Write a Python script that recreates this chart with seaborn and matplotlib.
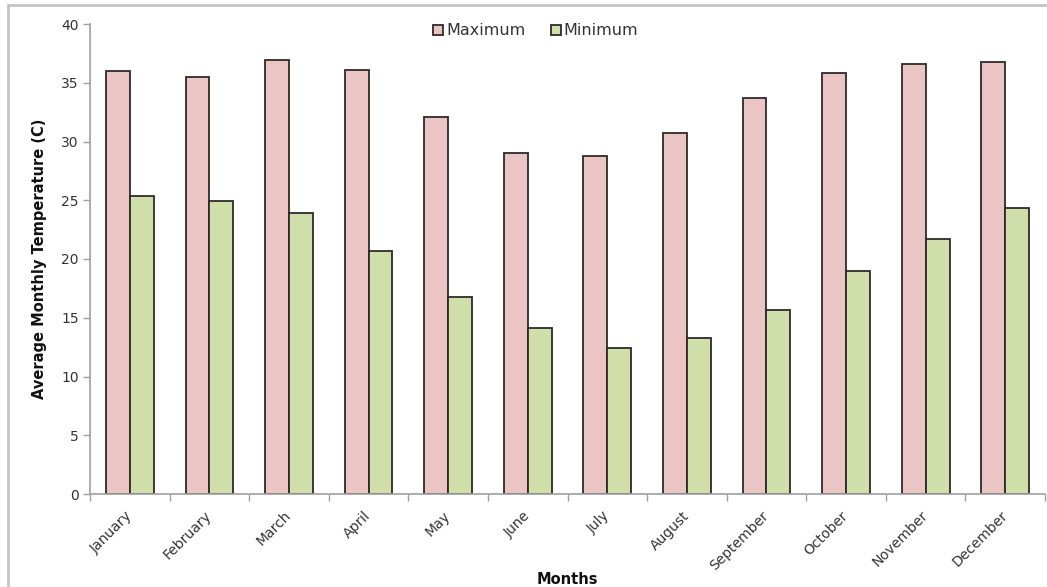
import matplotlib
matplotlib.use("Agg")
import matplotlib.pyplot as plt
from matplotlib.lines import Line2D
import numpy as np
import pandas as pd
import seaborn as sns

# Monthly temperature normals
months = ["January", "February", "March", "April", "May", "June",
          "July", "August", "September", "October", "November", "December"]
max_temp = [36.0, 35.5, 36.9, 36.1, 32.1, 29.0, 28.8, 30.7, 33.7, 35.8, 36.6, 36.8]
min_temp = [25.4, 24.9, 23.9, 20.7, 16.8, 14.1, 12.4, 13.3, 15.7, 19.0, 21.7, 24.3]
series_names = ["Maximum", "Minimum"]
y_ticks = [0, 5, 10, 15, 20, 25, 30, 35, 40]

df = pd.DataFrame({
    "Month": months * 2,
    "Series": [series_names[0]] * len(months) + [series_names[1]] * len(months),
    "Temp": max_temp + min_temp,
})

sns.set_theme(style="white")
plt.rcParams["font.family"] = ["DejaVu Sans"]

fig = plt.figure(figsize=(10.47, 5.87), dpi=100)
ax = fig.add_axes([90 / 1047, 1 - 494 / 587, (1045 - 90) / 1047, (494 - 24) / 587])

palette = {"Maximum": "#ebc4c4", "Minimum": "#d0dea9"}
sns.barplot(data=df, x="Month", y="Temp", hue="Series", order=months,
            hue_order=series_names, palette=palette, width=0.6,
            edgecolor="#2e2a2a", linewidth=1.3, saturation=1, ax=ax, legend=True)

ax.set_ylim(0, 40)
ax.set_xlim(-0.5, len(months) - 0.5)
ax.set_yticks(y_ticks)
ax.tick_params(axis="y", labelsize=10, colors="#333333", length=5, width=1,
               direction="out", left=True, color="#a0a0a0", pad=3)
# category boundary ticks on the x axis
ax.set_xticks(np.arange(-0.5, len(months), 1.0), minor=True)
ax.tick_params(axis="x", which="minor", length=5, color="#a0a0a0", bottom=True, direction="out")
ax.tick_params(axis="x", which="major", length=0, labelsize=10, colors="#333333", pad=14)
for lab in ax.get_xticklabels():
    lab.set_rotation(45)
    lab.set_ha("right")
    lab.set_va("center")
    lab.set_rotation_mode("anchor")

for side in ["top", "right"]:
    ax.spines[side].set_visible(False)
for side in ["left", "bottom"]:
    ax.spines[side].set_color("#a0a0a0")
    ax.spines[side].set_linewidth(1.2)

ax.set_ylabel("Average Monthly Temperature (C)", fontsize=10.5, fontweight="bold",
              color="#111111", labelpad=10)
ax.set_xlabel("Months", fontsize=10.5, fontweight="bold", color="#111111")
ax.xaxis.set_label_coords(0.5, -0.165)

handles, labels = ax.get_legend_handles_labels()
ax.legend(handles, labels, loc="upper center", bbox_to_anchor=(0.467, 1.032), ncol=2,
          frameon=False, fontsize=11.5, handlelength=0.6, handleheight=0.6,
          handletextpad=0.2, columnspacing=1.6, labelcolor="#333333")

# chart frame on the top and left edges
fig.add_artist(Line2D([8 / 1047, 8 / 1047], [0, 1 - 5 / 587], transform=fig.transFigure,
                      color="#c4c4c4", linewidth=2))
fig.add_artist(Line2D([8 / 1047, 1], [1 - 5 / 587, 1 - 5 / 587], transform=fig.transFigure,
                      color="#c4c4c4", linewidth=2))

fig.savefig("out.png", dpi=100)
